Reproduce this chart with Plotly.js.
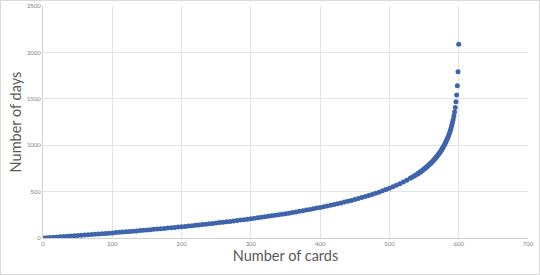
<!DOCTYPE html>
<html>
<head>
<meta charset="utf-8">
<script src="https://cdn.plot.ly/plotly-3.0.1.min.js"></script>
<style>
html,body{margin:0;padding:0;background:#fff;}
#wrap{width:540px;height:275px;box-sizing:border-box;border:1px solid #d9d9d9;}
#chart{width:538px;height:273px;}
</style>
</head>
<body>
<div id="wrap"><div id="chart"></div></div>
<script>
// Number of cards (x) and number of days (y)
const cards = [
  0,5,10,15,20,25,30,35,40,45,50,55,60,65,70,75,80,85,90,95,
  100,105,110,115,120,125,130,135,140,145,150,155,160,165,170,175,180,185,190,195,
  200,205,210,215,220,225,230,235,240,245,250,255,260,265,270,275,280,285,290,295,
  300,305,310,315,320,325,330,335,340,345,350,355,360,365,370,375,380,385,390,395,
  400,405,410,415,420,425,430,435,440,445,450,455,460,465,470,475,480,485,490,495,
  500,505,510,515,520,525,530,532,535,537,
  540,541,542,543,544,545,546,547,548,549,550,
  551,552,553,554,555,556,557,558,559,560,561,562,563,564,565,566,567,568,569,570,
  571,572,573,574,575,576,577,578,579,580,581,582,583,584,585,586,587,588,589,590,
  591,592,593,594,595,596,597,598,599,600
];
const days = [
  0,3,5,8,10,13,15,18,21,23,26,29,32,34,37,40,43,46,49,52,
  55,58,61,64,67,70,73,76,80,83,86,90,93,96,100,103,107,110,114,118,
  121,125,129,133,137,141,145,149,153,157,161,166,170,175,179,184,188,193,198,203,
  208,213,218,223,228,234,239,245,251,256,262,268,274,281,287,294,301,307,314,322,
  329,337,344,352,361,369,378,387,396,405,415,425,436,447,458,470,482,494,508,522,
  536,552,568,585,603,622,643,651,665,674,
  688,694,699,704,709,714,720,725,731,737,743,
  749,755,761,768,774,781,788,795,802,809,816,824,832,840,849,857,866,875,884,894,
  904,914,925,936,948,960,972,985,999,1013,1028,1044,1061,1078,1097,1117,1138,1161,1186,1214,
  1244,1277,1315,1357,1406,1467,1541,1640,1792,2087
];
const xTicks = [0,100,200,300,400,500,600,700];
const yTicks = [0,500,1000,1500,2000,2500];

const trace = {
  x: cards, y: days, type: 'scatter', mode: 'markers',
  marker: {color: '#3F64AC', size: 5, line: {width: 0}},
  hoverinfo: 'x+y'
};
const tickFont = {family: 'Lato, "Open Sans", sans-serif', size: 6, color: '#7f7f7f'};
const titleFont = {family: 'Lato, "Open Sans", sans-serif', size: 14.5, color: '#595959'};
const layout = {
  width: 538, height: 273,
  margin: {l: 42, r: 11, t: 5, b: 36},
  paper_bgcolor: '#fff', plot_bgcolor: '#fff',
  showlegend: false,
  xaxis: {
    range: [0, 700], tickvals: xTicks, ticktext: xTicks.map(String),
    showgrid: true, gridcolor: '#e3e3e3', gridwidth: 1,
    zeroline: false, showline: true, linecolor: '#d0d0d0', linewidth: 1,
    ticks: '', tickfont: tickFont,
    title: {text: 'Number of cards', font: titleFont, standoff: 4}
  },
  yaxis: {
    range: [0, 2500], tickvals: yTicks, ticktext: yTicks.map(String),
    showgrid: true, gridcolor: '#e3e3e3', gridwidth: 1,
    zeroline: false, showline: true, linecolor: '#d0d0d0', linewidth: 1,
    ticks: '', tickfont: tickFont,
    title: {text: 'Number of days', font: titleFont, standoff: 1}
  }
};
Plotly.newPlot('chart', [trace], layout, {displayModeBar: false, staticPlot: true});
</script>
</body>
</html>
